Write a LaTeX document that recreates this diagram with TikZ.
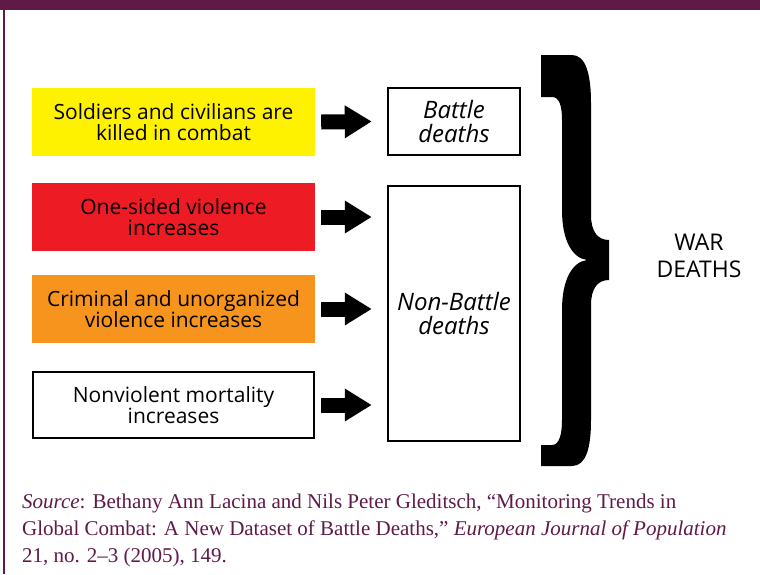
\documentclass[tikz,border=0pt]{standalone}
\usepackage{fontspec}
\setmainfont{Liberation Serif}
\setsansfont{Open Sans}
\usetikzlibrary{arrows.meta, positioning}

\definecolor{framepurple}{HTML}{5F1A48}
\definecolor{boxyellow}{HTML}{FFF200}
\definecolor{boxred}{HTML}{ED1C24}
\definecolor{boxorange}{HTML}{F7941D}

\tikzset{
    causebox/.style={minimum width=283pt, minimum height=68pt, inner sep=0pt,
        align=center, font=\sffamily\fontsize{21}{21}\selectfont},
    deathbox/.style={draw=black, line width=2.5pt, minimum width=132pt,
        inner sep=0pt, align=center, font=\sffamily\itshape\fontsize{24}{24}\selectfont},
    bigarrow/.style={line width=15pt, line cap=butt,
        -{Triangle[length=27pt, width=31pt]}}
}

\begin{document}
\begin{tikzpicture}[x=1pt, y=-1pt]
    \useasboundingbox (0,0) rectangle (760,574);
    % frame
    \fill[framepurple] (0,0) rectangle (760,10);
    \fill[framepurple] (3,10) rectangle (5,574);

    % causes
    \node (combat) at (173.5,122) [causebox, fill=boxyellow]
        {Soldiers and civilians are\\killed in combat};
    \node (onesided) at (173.5,217) [causebox, fill=boxred]
        {One-sided violence\\increases};
    \node (criminal) at (173.5,309) [causebox, fill=boxorange]
        {Criminal and unorganized\\violence increases};
    \node (nonviolent) at (173.5,405) [causebox, draw=black, line width=2pt,
        minimum width=281pt, minimum height=66pt] {Nonviolent mortality\\increases};

    % kinds of deaths
    \node (battle) at (454,121.5) [deathbox, minimum height=67pt] {Battle\\deaths};
    \node (nonbattle) at (454,313.5) [deathbox, minimum height=255pt] {Non-Battle\\deaths};

    % arrows
    \draw[bigarrow] ([xshift=6pt]combat.east) -- ([xshift=-15pt]battle.west);
    \foreach \src in {onesided, criminal, nonviolent}
        \draw[bigarrow] ([xshift=6pt]\src.east) -- ([xshift=-15pt]\src.east -| nonbattle.west);

    % brace
    \fill (541,55) -- (572,55)
        .. controls (586,55) and (591,75) .. (591,103)
        -- (591,215)
        .. controls (591,232) and (598,240) .. (609,240)
        -- (609,280)
        .. controls (598,280) and (591,288) .. (591,305)
        -- (591,420)
        .. controls (591,448) and (586,466) .. (572,466)
        -- (541,466) -- (541,445) -- (552,445)
        .. controls (559,445) and (562,435) .. (562,420)
        -- (562,310)
        .. controls (562,280) and (572,262) .. (587,260)
        .. controls (572,258) and (562,240) .. (562,210)
        -- (562,120)
        .. controls (562,105) and (559,97) .. (552,97)
        -- (541,97) -- cycle;
    \node (wardeaths) at (699,256) [align=center,
        font=\sffamily\fontsize{23}{27}\selectfont] {WAR\\DEATHS};

    % source
    \node (source) at (22,494) [anchor=north west, align=left, inner sep=0pt,
        text=framepurple, font=\fontsize{21}{27}\selectfont]
        {\textit{Source}: Bethany Ann Lacina and Nils Peter Gleditsch, “Monitoring Trends in\\
        Global Combat: A New Dataset of Battle Deaths,” \textit{European Journal of Population}\\
        21, no. 2–3 (2005), 149.};
\end{tikzpicture}
\end{document}
